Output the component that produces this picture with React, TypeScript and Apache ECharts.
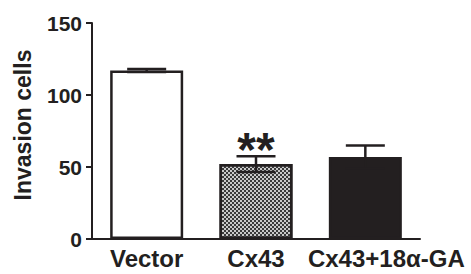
import React, { useEffect, useRef } from "react";
import * as echarts from "echarts";

const categories = ["Vector", "Cx43", "Cx43+18α-GA"];
const means = [117, 52, 57];
const errors = [1.0, 5.5, 8];
const significance = ["", "**", ""];
const yTicks = { min: 0, max: 150, interval: 50 };

const INK = "#231f20";
const FONT = "'Liberation Sans', Arial, sans-serif";

export default function App() {
  const ref = useRef<HTMLDivElement>(null);
  useEffect(() => {
    if (!ref.current) return;
    const chart = echarts.init(ref.current, null, { renderer: "svg" });
    const barColors: any[] = [
      "#ffffff",
      {
        color: "#c9c9c9",
        decal: {
          symbol: "rect",
          symbolSize: 1,
          dashArrayX: [[2, 2], [0, 2, 2, 0]],
          dashArrayY: [2, 0],
          color: "#3a3a3a",
          rotation: 0,
        },
      },
      INK,
    ];
    const barData = means.map((v, i) => {
      const c = barColors[i];
      const itemStyle: any =
        typeof c === "string"
          ? { color: c }
          : { color: c.color, decal: c.decal };
      return { value: v, itemStyle };
    });
    const catData = categories.map((c, i) =>
      i === categories.length - 1
        ? { value: c, textStyle: { padding: [0, 0, 0, 42] } }
        : c
    );
    const errData = means.map((v, i) => [i, v, errors[i]]);
    chart.setOption({
      animation: false,
      aria: { enabled: false, decal: { show: true } },
      grid: { left: 92, right: 51, top: 23, bottom: 35 },
      xAxis: {
        type: "category",
        data: catData,
        axisLine: { lineStyle: { color: INK, width: 2 } },
        axisTick: { alignWithLabel: true, length: 6, lineStyle: { color: INK, width: 2 } },
        axisLabel: { interval: 0, color: INK, fontSize: 24, fontWeight: "bold", fontFamily: FONT, margin: 7 },
      },
      yAxis: {
        type: "value",
        min: yTicks.min,
        max: yTicks.max,
        interval: yTicks.interval,
        name: "Invasion cells",
        nameLocation: "middle",
        nameGap: 58,
        nameTextStyle: { color: INK, fontSize: 23, fontWeight: "bold", fontFamily: FONT, padding: [0, 0, 0, 12] },
        splitLine: { show: false },
        axisLine: { show: true, lineStyle: { color: INK, width: 2 } },
        axisTick: { show: true, length: 6, lineStyle: { color: INK, width: 2 } },
        axisLabel: { color: INK, fontSize: 21, fontWeight: "bold", fontFamily: FONT, margin: 10 },
      },
      series: [
        {
          type: "bar",
          data: barData,
          barWidth: 73,
          itemStyle: { borderColor: INK, borderWidth: 2.5 },
        },
        {
          type: "custom",
          data: errData,
          z: 10,
          renderItem: (params: any, api: any) => {
            const x = api.value(0);
            const m = api.value(1);
            const e = api.value(2);
            const top = api.coord([x, m + e]);
            const bot = api.coord([x, m - e]);
            const half = 19.5;
            const style = { stroke: INK, lineWidth: 2.5 };
            const sig = significance[params.dataIndex];
            const children: any[] = [
              { type: "line", shape: { x1: top[0], y1: top[1], x2: bot[0], y2: bot[1] }, style },
              { type: "line", shape: { x1: top[0] - half, y1: top[1], x2: top[0] + half, y2: top[1] }, style },
              { type: "line", shape: { x1: bot[0] - half, y1: bot[1], x2: bot[0] + half, y2: bot[1] }, style },
            ];
            if (sig) {
              children.push({
                type: "text",
                x: top[0],
                y: top[1] + 17,
                style: {
                  text: sig,
                  fill: INK,
                  font: `bold 48px ${FONT}`,
                  textAlign: "center",
                  textVerticalAlign: "bottom",
                },
              });
            }
            return { type: "group", children };
          },
        },
      ],
    });
    return () => chart.dispose();
  }, []);
  return (
    <div
      ref={ref}
      style={{ position: "fixed", left: 0, top: 0, width: 471, height: 274, background: "#fff" }}
    />
  );
}
